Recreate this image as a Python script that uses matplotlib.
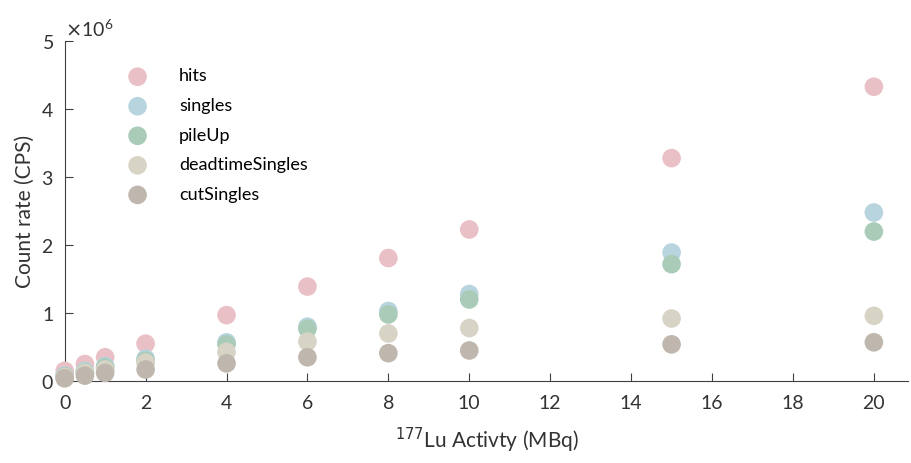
import numpy as np
import matplotlib
matplotlib.use("Agg")
import matplotlib.pyplot as plt
from matplotlib.ticker import ScalarFormatter

plt.rcParams['font.family'] = ['Lato', 'DejaVu Sans']

# Activity (MBq)
activity = [0, 0.5, 1, 2, 4, 6, 8, 10, 15, 20]

# Count rates (CPS)
hits = [0.15e6, 0.25e6, 0.35e6, 0.55e6, 0.97e6, 1.39e6, 1.81e6, 2.23e6, 3.28e6, 4.33e6]
singles = [0.08e6, 0.15e6, 0.22e6, 0.33e6, 0.57e6, 0.80e6, 1.03e6, 1.28e6, 1.89e6, 2.48e6]
pileup = [0.07e6, 0.13e6, 0.20e6, 0.30e6, 0.54e6, 0.77e6, 0.98e6, 1.20e6, 1.72e6, 2.20e6]
deadtime = [0.06e6, 0.12e6, 0.17e6, 0.27e6, 0.43e6, 0.58e6, 0.70e6, 0.78e6, 0.92e6, 0.96e6]
cut = [0.04e6, 0.08e6, 0.12e6, 0.17e6, 0.26e6, 0.35e6, 0.41e6, 0.45e6, 0.54e6, 0.57e6]

series = [
    ("hits", hits, "#e9c0c6"),
    ("singles", singles, "#b7d4df"),
    ("pileUp", pileup, "#a9cbb8"),
    ("deadtimeSingles", deadtime, "#d7d4c5"),
    ("cutSingles", cut, "#bfb7ad"),
]

fig = plt.figure(figsize=(9.11, 4.63), dpi=100)
ax = fig.add_axes([0.071, 0.177, 0.926, 0.734])

for name, vals, col in series:
    ax.scatter(activity, vals, s=180, color=col, edgecolors='none', label=name,
               clip_on=False, zorder=3)

ax.set_xlim(0, 20.85)
ax.set_ylim(0, 5e6)
ax.set_xticks(np.arange(0, 21, 2))
ax.set_yticks(np.arange(0, 5.1e6, 1e6))

fmt = ScalarFormatter(useMathText=True)
fmt.set_powerlimits((0, 0))
ax.yaxis.set_major_formatter(fmt)
ax.yaxis.get_offset_text().set_fontsize(14)
ax.yaxis.get_offset_text().set_color('#555555')

for s in ['top', 'right']:
    ax.spines[s].set_visible(False)
for s in ['left', 'bottom']:
    ax.spines[s].set_color('#404040')
ax.tick_params(direction='in', length=6, color='#404040', labelsize=14,
               labelcolor='#333333')
ax.tick_params(axis='x', pad=10)
ax.tick_params(axis='y', pad=8)

ax.set_xlabel(r'$^{177}$Lu Activty (MBq)', fontsize=15, color='#333333',
              labelpad=10)
ax.set_ylabel('Count rate (CPS)', fontsize=15, color='#333333')

ax.legend(loc='upper left', bbox_to_anchor=(0.05, 0.957), frameon=False,
          fontsize=13, labelspacing=0.75, handletextpad=1.3, scatterpoints=1,
          borderpad=0.2)

plt.savefig("out.png", dpi=100)
plt.close()
